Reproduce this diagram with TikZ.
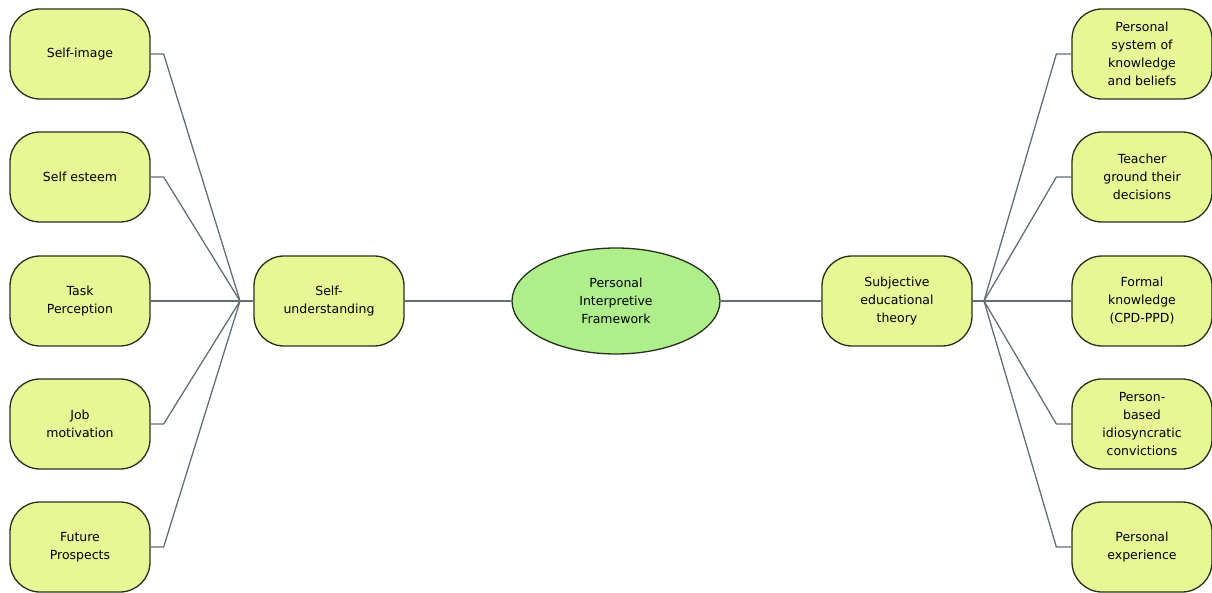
\documentclass[tikz,border=0pt]{standalone}
\usepackage{fontspec}
\setmainfont{DejaVu Sans}
\usetikzlibrary{calc,shapes.geometric}
\definecolor{boxfill}{RGB}{232,247,150}
\definecolor{ovalfill}{RGB}{174,239,140}
\definecolor{edgecol}{RGB}{40,48,28}
\definecolor{linkcol}{RGB}{100,110,118}
\tikzset{
  leaf/.style={draw=edgecol, line width=1.3pt, fill=boxfill, rounded corners=30pt,
    minimum width=140pt, minimum height=90pt, inner sep=0pt, align=center,
    font=\fontsize{12.5}{18}\selectfont},
  mid/.style={leaf, minimum width=150pt},
  oval/.style={draw=edgecol, line width=1.3pt, fill=ovalfill, ellipse,
    minimum width=208pt, minimum height=106pt, inner sep=0pt, align=center,
    font=\fontsize{12.5}{18}\selectfont},
  link/.style={draw=linkcol, line width=1.3pt}
}
\begin{document}
\begin{tikzpicture}[x=1pt,y=-1pt]
\useasboundingbox (0,0) rectangle (1212,593);
% centre
\node[oval] (pif) at (616,301) {Personal\\Interpretive\\Framework};
\node[mid] (su) at (329,301) {Self-\\understanding};
\node[mid] (set) at (897,301) {Subjective\\educational\\theory};
% left branch
\node[leaf] (l1) at (80,54) {Self-image};
\node[leaf] (l2) at (80,177) {Self esteem};
\node[leaf] (l3) at (80,301) {Task\\Perception};
\node[leaf] (l4) at (80,424) {Job\\motivation};
\node[leaf] (l5) at (80,547) {Future\\Prospects};
% right branch
\node[leaf] (r1) at (1142,54) {Personal\\system of\\knowledge\\and beliefs};
\node[leaf] (r2) at (1142,177) {Teacher\\ground their\\decisions};
\node[leaf] (r3) at (1142,301) {Formal\\knowledge\\(CPD-PPD)};
\node[leaf] (r4) at (1142,424) {Person-\\based\\idiosyncratic\\convictions};
\node[leaf] (r5) at (1142,547) {Personal\\experience};
% junction points
\coordinate (hl) at (240,301);
\coordinate (hr) at (984,301);
% connectors
\draw[link] (su.east) -- (pif.west);
\draw[link] (pif.east) -- (set.west);
\draw[link] (hl) -- (su.west);
\draw[link] (set.east) -- (hr);
\foreach \n in {l1,l2,l3,l4,l5}
  \draw[link] (\n.east) -- ($(\n.east)+(13,0)$) -- (hl);
\foreach \n in {r1,r2,r3,r4,r5}
  \draw[link] (\n.west) -- ($(\n.west)+(-15,0)$) -- (hr);
\end{tikzpicture}
\end{document}
